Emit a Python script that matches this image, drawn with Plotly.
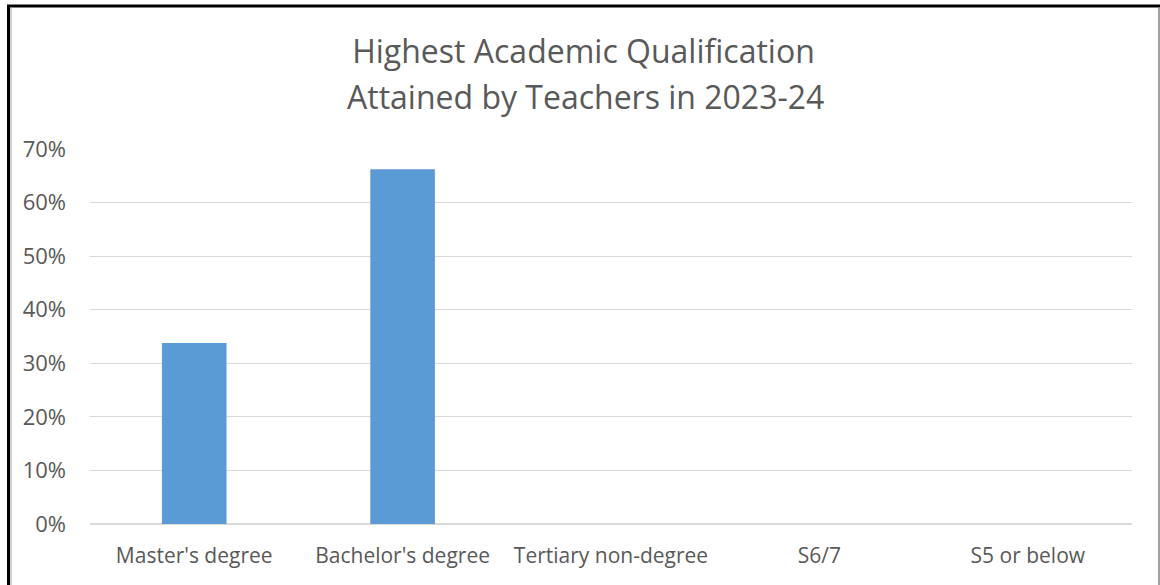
import plotly.graph_objects as go

# data
categories = ["Master's degree", "Bachelor's degree", "Tertiary non-degree", "S6/7", "S5 or below"]
share_pct = [33.8, 66.2, 0.0, 0.0, 0.0]
y_ticks = [0, 10, 20, 30, 40, 50, 60, 70]
y_tick_labels = ["0%", "10%", "20%", "30%", "40%", "50%", "60%", "70%"]
title_line1 = "Highest Academic Qualification"
title_line2 = "Attained by Teachers in 2023-24"

grey_txt = "#595959"
font_name = "Open Sans"

fig = go.Figure()
fig.add_trace(go.Bar(x=categories, y=share_pct,
                     marker_color="#5b9bd5",
                     marker_line_width=0,
                     hoverinfo="x+y"))

# add Title (two lines, second one as annotation to get Excel-like spacing)
fig.update_layout(
    title={
        'text': title_line1,
        'font': dict(size=32, color=grey_txt, family=font_name),
        'x': 0.503, 'xref': 'container',
        'y': 1 - 52 / 585, 'yref': 'container',
        'xanchor': 'center', 'yanchor': 'middle'})

fig.update_layout(
    width=1160, height=585,
    margin=dict(l=90, r=28, t=149, b=61),
    paper_bgcolor="white",
    plot_bgcolor="white",
    bargap=0.69,
    showlegend=False,
    font=dict(family=font_name, color=grey_txt, size=21),
)

px_w, px_h = 1042, 375
def fx(p):
    return (p - 90) / px_w
def fy(p):
    return (524 - p) / px_h

fig.add_annotation(text=title_line2, xref="paper", yref="paper",
                   x=fx(585.5), y=fy(96), xanchor="center", yanchor="middle",
                   showarrow=False,
                   font=dict(size=32, color=grey_txt, family=font_name))

fig.update_xaxes(showgrid=False, showline=False, ticks="",
                 ticklabelstandoff=17,
                 tickfont=dict(size=21, color=grey_txt))
fig.update_yaxes(range=[0, 70], tickvals=y_ticks, ticktext=y_tick_labels,
                 showgrid=True, gridcolor="#d9d9d9", gridwidth=1,
                 zeroline=True, zerolinecolor="#d9d9d9", zerolinewidth=2,
                 showline=False, ticks="", ticklabelstandoff=23,
                 tickfont=dict(size=22, color=grey_txt))

# frame around the chart (like the cropped Excel chart border)
fig.add_shape(type="line", xref="paper", yref="paper",
              x0=fx(7), x1=fx(1160), y0=fy(6), y1=fy(6),
              line=dict(color="black", width=3))
fig.add_shape(type="line", xref="paper", yref="paper",
              x0=fx(8.5), x1=fx(8.5), y0=fy(5), y1=fy(585),
              line=dict(color="black", width=3))
fig.add_shape(type="line", xref="paper", yref="paper",
              x0=fx(11), x1=fx(11), y0=fy(7), y1=fy(585),
              line=dict(color="#a0a0a0", width=1))
fig.add_shape(type="line", xref="paper", yref="paper",
              x0=fx(1159), x1=fx(1159), y0=fy(7), y1=fy(585),
              line=dict(color="#808080", width=1.5))

fig.write_html("out.html", config={'displayModeBar': False},
               post_script="document.body.style.margin='0';")
